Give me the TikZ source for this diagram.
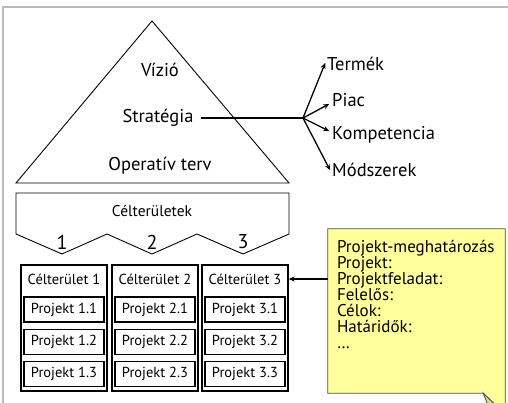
\documentclass[tikz,border=0pt]{standalone}
\usepackage{fontspec}
\setmainfont{PT Sans}
\usetikzlibrary{positioning,arrows.meta,backgrounds}

\definecolor{notefill}{HTML}{FFFF9C}
\definecolor{foldfill}{HTML}{D8D890}

\begin{document}
\begin{tikzpicture}[x=1pt,y=-1pt,>={Stealth[length=6pt,width=5pt]},
      big/.style={font=\fontsize{18.5}{20}\selectfont,inner sep=1pt},
      small/.style={font=\fontsize{14.5}{17}\selectfont,inner sep=1pt},
      col/.style={draw,line width=1.3pt,minimum width=86pt,minimum height=126pt,inner sep=0pt},
      proj/.style={draw,line width=1.2pt,minimum width=80pt,minimum height=25pt,inner sep=0pt,
        font=\fontsize{14.5}{17}\selectfont},
      branch/.style={->,line width=1.3pt,shorten >=2pt}]
  \useasboundingbox (0,0) rectangle (508,403);
  % frame
  \draw[gray!55,line width=1.2pt] (3,403) -- (3,7) -- (508,7);

  % pyramid
  \coordinate (top) at (152,21);
  \coordinate (bl) at (16,183);
  \coordinate (br) at (289,183);
  \draw[line width=0.9pt] (top) -- (bl) -- (br) -- cycle;
  \node[big] (vizio) at (160,70) {Vízió};
  \node[big] (strat) at (158,118) {Stratégia};
  \node[big] (oper) at (160,166) {Operatív terv};

  % strategy branches
  \coordinate (fork) at (303,118);
  \node[big,anchor=west] (termek) at (326,64) {Termék};
  \node[big,anchor=west] (piac) at (331,100) {Piac};
  \node[big,anchor=west] (komp) at (331,135) {Kompetencia};
  \node[big,anchor=west] (modsz) at (331,170) {Módszerek};
  \draw[line width=1.3pt,shorten <=6pt] (strat) -- (fork);
  \draw[branch] (fork) -- ([yshift=3pt]termek.west);
  \draw[branch] (fork) -- ([yshift=-3pt]piac.west);
  \draw[branch] (fork) -- ([yshift=3pt]komp.west);
  \draw[branch] (fork) -- ([yshift=-2pt]modsz.west);

  % target areas banner
  \draw[line width=0.9pt] (16,193) -- (289,193) -- (289,234) -- (243,254) -- (197,234)
        -- (152,254) -- (107,234) -- (62,254) -- (16,234) -- cycle;
  \node[font=\fontsize{15.5}{19}\selectfont] (cel) at (152,211) {Célterületek};
  \node[font=\fontsize{20}{22}\selectfont] (n1) at (62,242) {1};
  \node[font=\fontsize{20}{22}\selectfont] (n2) at (152,242) {2};
  \node[font=\fontsize{20}{22}\selectfont] (n3) at (243,242) {3};

  % columns
  \node[col] (c1) at (64,328) {};
  \node[col] (c2) at (155,328) {};
  \node[col] (c3) at (245,328) {};
  \node[small] (t1) at (64,279) {Célterület 1};
  \node[small] (t2) at (155,279) {Célterület 2};
  \node[small] (t3) at (245,279) {Célterület 3};
  \node[proj] (p11) at (64,309.5) {Projekt 1.1};
  \node[proj] (p12) [below=6pt of p11] {Projekt 1.2};
  \node[proj] (p13) [below=6pt of p12] {Projekt 1.3};
  \node[proj] (p21) at (155,309.5) {Projekt 2.1};
  \node[proj] (p22) [below=6pt of p21] {Projekt 2.2};
  \node[proj] (p23) [below=6pt of p22] {Projekt 2.3};
  \node[proj] (p31) at (245,309.5) {Projekt 3.1};
  \node[proj] (p32) [below=6pt of p31] {Projekt 3.2};
  \node[proj] (p33) [below=6pt of p32] {Projekt 3.3};

  % project definition note
  \node[minimum width=177pt,minimum height=164pt,inner sep=0pt] (note) at (416.5,311) {};
  \node[anchor=north west,align=left,inner sep=0pt,
        font=\fontsize{17}{16}\selectfont] (notetxt) at ([xshift=9pt,yshift=-11pt]note.north west)
        {Projekt-meghatározás\\Projekt:\\Projektfeladat:\\Felelős:\\Célok:\\Határidők:\\\dots};
  \begin{scope}[on background layer]
    \filldraw[fill=notefill,draw=black!70,line width=0.8pt]
      (note.north west) -- (note.north east) -- ([yshift=-21pt]note.south east)
      -- ([xshift=-22pt]note.south east) -- (note.south west) -- cycle;
  \end{scope}
  \filldraw[fill=foldfill,draw=black!70,line width=0.8pt]
    ([xshift=-22pt]note.south east) -- ([xshift=-15pt,yshift=-18pt]note.south east)
    -- ([yshift=-21pt]note.south east) -- cycle;
  \draw[->,line width=1.3pt] (note.west |- t3) -- (c3.east |- t3);
\end{tikzpicture}
\end{document}
